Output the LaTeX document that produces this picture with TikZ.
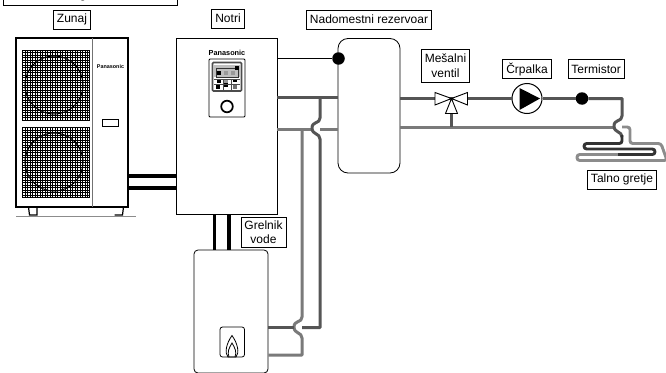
\documentclass[tikz,border=0pt]{standalone}
\usepackage{fontspec}
\setmainfont{Liberation Sans}
\usetikzlibrary{positioning}
\definecolor{pipedarkc}{HTML}{555555}
\definecolor{pipegrayc}{HTML}{7A7A7A}
\tikzset{
  labelbox/.style={draw, line width=0.8pt, align=center, inner xsep=3.5pt, inner ysep=0pt, minimum height=19pt, font=\fontsize{12}{14.5}\selectfont},
  unit/.style={draw, line width=0.8pt, inner sep=0pt},
  softunit/.style={draw, line width=0.8pt, inner sep=0pt, rounded corners=4pt},
  blackpipe/.style={line width=3.4pt, black},
  pipedark/.style={line width=3pt, pipedarkc, line join=round},
  pipegray/.style={line width=3pt, pipegrayc, line join=round},
  coildark/.style={line width=2.9pt, black!80, rounded corners=2.7pt},
  coilgray/.style={line width=2.9pt, black!45, rounded corners=2.7pt},
  sensordot/.style={circle, fill=black, inner sep=0pt, minimum size=12.5pt},
  valvepart/.style={draw, fill=white, line width=0.9pt, line join=miter},
  grille/.style={line width=1pt, step=2.5pt, black},
  brand/.style={font=\bfseries, inner sep=0pt}
}
\newcommand{\hopdown}{.. controls ++(0,6) and ++(0,-7) .. ++(-8,10) .. controls ++(0,7) and ++(0,-6) .. ++(8,11)}

\begin{document}
\begin{tikzpicture}[x=1pt, y=-1pt, node distance=8pt]
\clip (0,0) rectangle (666,372);
\fill[white] (0,0) rectangle (666,372);

\node[unit, line width=1.2pt, minimum width=112pt, minimum height=169pt] (outdoor) at (72,122.5) {};
\node[unit, minimum width=101pt, minimum height=176pt] (indoor) at (226.5,126) {};
\node[softunit, rounded corners=10pt, minimum width=62pt, minimum height=134.5pt] (tank) at (369,105.75) {};
\node[softunit, minimum width=74pt, minimum height=123pt] (heater) at (231,311.5) {};

\node[labelbox, minimum width=174pt, minimum height=20pt] (topbox) at (90,-5) {};
\node[anchor=base, inner sep=0pt, font=\fontsize{12}{14}\selectfont] (topletter) at (83,-1.6) {g};
\node[labelbox, above=8pt of outdoor] (zunaj) {Zunaj};
\node[labelbox, above=9pt of indoor, xshift=1.5pt] (notri) {Notri};
\node[labelbox, above=8.5pt of tank] (tanklabel) {Nadomestni rezervoar};
\node[labelbox, minimum height=30pt] (grelnik) at (263.5,232) {Grelnik\\vode};

\foreach \gy/\cy in {50/85, 127/162}{
  \draw[grille] (22,\gy) grid (89,\gy+70);
  \draw[line width=1pt] (22,\gy) rectangle (89,\gy+70);
  \draw[line width=1pt] (54,\cy) circle (29);
}
\draw[line width=1pt, black!55] (92.7,38) -- (92.7,207);
\node[brand, font=\bfseries\fontsize{5.4}{6}\selectfont] (brandout) at (110.5,66.7) {Panasonic};
\draw[line width=0.8pt] (102,119.5) rectangle (118,126);
\draw[line width=1.2pt] (28.5,207) -- (29.5,215) -- (37,215) -- (37,207);
\draw[line width=1.2pt] (114.5,215) -- (122.5,215) -- (123.5,207);
\draw[line width=1pt, black!45] (16,216) -- (136,216);

\node[brand, font=\bfseries\fontsize{7.3}{8}\selectfont] (brandin) at (227,52.5) {Panasonic};
\draw[line width=0.8pt, rounded corners=1pt] (209,59) rectangle (245,117);
\draw[line width=1.6pt, black!70, rounded corners=1pt] (212.5,62.5) rectangle (241.5,91);
\fill[black!25] (214,65) rectangle (240,77);
\draw[line width=0.5pt, black!80] (216,68) rectangle (238,77);
\foreach \bx/\by/\bc in {219/73/black, 226/73/black!40, 233/73/black!40, 237/68/black, 219/81/black, 226/81/black!40, 235/80.5/black, 218/87/black, 226/85/black, 235/87/black!55}{
  \fill[\bc] (\bx-1.6,\by-1.6) rectangle (\bx+1.6,\by+1.6);
}
\draw[line width=0.5pt, black!70] (214,79) -- (240,79) (214,84) -- (240,84) (223,79) -- (223,90) (231,79) -- (231,90);
\draw[line width=1.7pt] (227,106.5) circle (5.8);

\draw[line width=0.8pt, rounded corners=2.5pt] (220,327) rectangle (244.5,357);
\draw[line width=0.8pt] (228,357) .. controls (224.5,353) and (226,344) .. (232,335.5) .. controls (238,344) and (239.5,353) .. (236,357) -- cycle;
\draw[line width=0.8pt] (229,357) .. controls (227,352) and (229,348) .. (232,343) .. controls (235,348) and (237,352) .. (235,357);

\coordinate (blackup) at (0,176);
\coordinate (blacklow) at (0,188);
\draw[blackpipe] (outdoor.east |- blackup) -- (indoor.west |- blackup);
\draw[blackpipe] (outdoor.east |- blacklow) -- (indoor.west |- blacklow);
\coordinate (heatleft) at (214.5,0);
\coordinate (heatright) at (229,0);
\draw[blackpipe] (indoor.south -| heatleft) -- (heater.north -| heatleft);
\draw[blackpipe] (indoor.south -| heatright) -- (heater.north -| heatright);

\node[sensordot] (tankdot) at (338.5,58.5) {};
\draw[line width=1.2pt] (indoor.east |- tankdot) -- (tankdot);

\coordinate (teeup) at (320,97);
\coordinate (teelow) at (302,129);
\coordinate (hopleft) at (312,129);
\coordinate (hopright) at (320,129);
\coordinate (heatup) at (320,327.5);
\coordinate (heatlow) at (302,355);
\coordinate (hopleftb) at (294,327.5);
\coordinate (hoprightb) at (302,327.5);
\draw[pipedark] (indoor.east |- teeup) -- (tank.west |- teeup);
\draw[pipegray] (indoor.east |- teelow) -- (hopleft);
\draw[pipegray] (hopright) -- (tank.west |- hopright);
\draw[pipegray] (teelow) -- (302,317) \hopdown -- (heatlow) -- (heater.east |- heatlow);
\draw[pipedark] (teeup) -- (320,118) \hopdown -- (heatup) -- (hoprightb);
\draw[pipedark] (hopleftb) -- (heater.east |- hopleftb);

\node[circle, draw, fill=white, line width=1pt, inner sep=0pt, minimum size=30pt] (pump) at (527,98.5) {};
\fill (519.5,88) -- (540,98.5) -- (519.5,110) -- cycle;
\node[sensordot] (thermdot) at (582,98.5) {};
\node[labelbox, above=4pt of pump] (crpalka) {Črpalka};
\node[labelbox, right=16pt of crpalka] (termistor) {Termistor};

\coordinate (valve) at (451.5,98.5);
\coordinate (mix) at (451.5,127);
\coordinate (hopin) at (613,127);
\coordinate (hopout) at (622,127);
\coordinate (coilup) at (630,127);
\coordinate (coilin) at (622,98.5);
\coordinate (coilsplit) at (618,154.5);

\draw[pipedark] (tank.east |- valve) -- (valve);
\draw[pipedark] (valve) -- (pump);
\draw[pipedark] (pump) -- (thermdot);
\draw[pipegray] (tank.east |- mix) -- (hopin);
\draw[pipedark] (valve) -- (mix);

\draw[coilgray] (hopout) -- (coilup) -- (630,143.5) -- (661,143.5) -- (667,160.5) -- (577,160.5) -- (577,154.5) -- (coilsplit);
\draw[pipedark] (thermdot) -- (coilin) -- (622,116) \hopdown;
\draw[coildark] (622,135) -- (622,143.5) -- (584,143.5) -- (584,149) -- (655,149) -- (655,154.5) -- (coilsplit);

\path[valvepart] (valve) -- (435,92.5) -- (435,105) -- cycle;
\path[valvepart] (valve) -- (467.5,92.5) -- (467.5,105) -- cycle;
\path[valvepart] (valve) -- (445.5,113.5) -- (457.5,113.5) -- cycle;
\node[labelbox, minimum height=33pt, above=16pt of valve, xshift=-6pt] (ventil) {Mešalni\\ventil};
\node[labelbox] (talno) at (622,179.5) {Talno gretje};
\end{tikzpicture}
\end{document}
